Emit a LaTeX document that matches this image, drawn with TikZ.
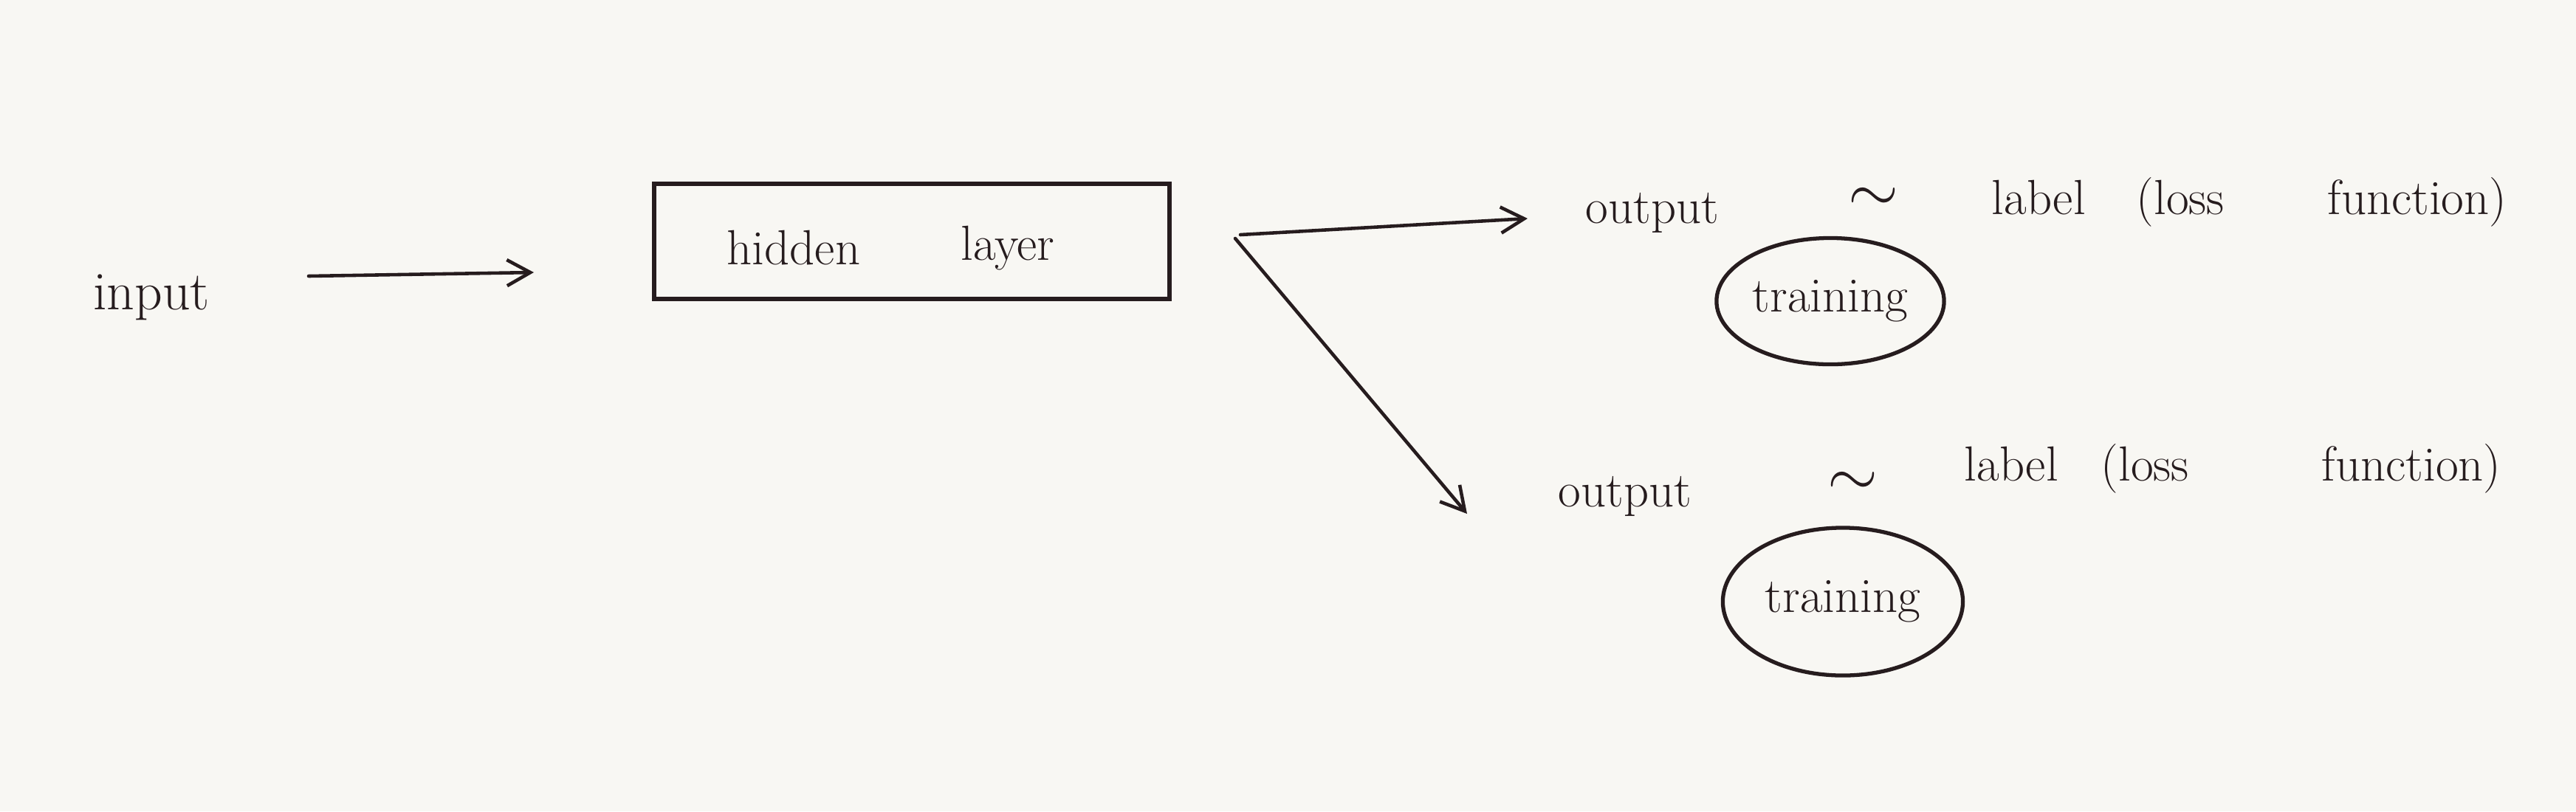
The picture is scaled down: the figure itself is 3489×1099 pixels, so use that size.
\documentclass[tikz,border=0pt]{standalone}
\usetikzlibrary{arrows.meta,shapes.geometric}
\definecolor{paper}{RGB}{248,247,243}
\definecolor{ink}{RGB}{38,28,30}
\begin{document}
\begin{tikzpicture}[x=0.01cm,y=-0.01cm,
  ink line/.style={draw=ink,line width=1.3pt,line cap=round},
  conn/.style={ink line,-{Straight Barb[length=9pt,width=10pt,line width=1.3pt]}},
  txt/.style={text=ink,font=\fontsize{19}{22}\selectfont,inner sep=0pt},
  bigtxt/.style={text=ink,font=\fontsize{21}{24}\selectfont,inner sep=0pt},
  tilde/.style={text=ink,font=\fontsize{32}{32}\selectfont,inner sep=0pt},
  ring/.style={draw=ink,line width=1.5pt,ellipse,inner sep=0pt,text=ink,font=\fontsize{19}{22}\selectfont}]
\fill[paper] (0,0) rectangle (3489,1099);
\useasboundingbox (0,0) rectangle (3489,1099);

% input
\node[bigtxt] (in) at (205,403) {input};
\coordinate (a1s) at (418,374);
\coordinate (a1e) at (723,369);
\draw[conn] (a1s) -- (a1e);

% hidden layer box
\node[draw=ink,line width=1.8pt,minimum width=6.98cm,minimum height=1.56cm,inner sep=0pt] (hl) at (1235,327) {};
\node[txt] (hid) at (1075,336) {hidden};
\node[txt] (lay) at (1365,336) {layer};

% branching arrows
\coordinate (b1s) at (1680,318);
\coordinate (b1e) at (2069,296);
\coordinate (b2s) at (1673,323);
\coordinate (b2e) at (1987,696);
\draw[conn] (b1s) -- (b1e);
\draw[conn] (b2s) -- (b2e);

% top row
\node[txt,anchor=base west] (o1) at (2147,302) {output};
\node[tilde] (t1) at (2538,270) {$\sim$};
\node[txt,anchor=base west] (l1) at (2697,290) {label};
\node[txt,anchor=base west] (f1) at (2893,290) {(loss\hspace{1.4cm}function)};
\node[ring,minimum width=3.08cm,minimum height=1.71cm] (r1) at (2479,408) {training};

% bottom row
\node[txt,anchor=base west] (o2) at (2110,686) {output};
\node[tilde] (t2) at (2510,655) {$\sim$};
\node[txt,anchor=base west] (l2) at (2660,651) {label};
\node[txt,anchor=base west] (f2) at (2845,651) {(loss\hspace{1.8cm}function)};
\node[ring,minimum width=3.25cm,minimum height=2.0cm] (r2) at (2496,815) {training};
\end{tikzpicture}
\end{document}
